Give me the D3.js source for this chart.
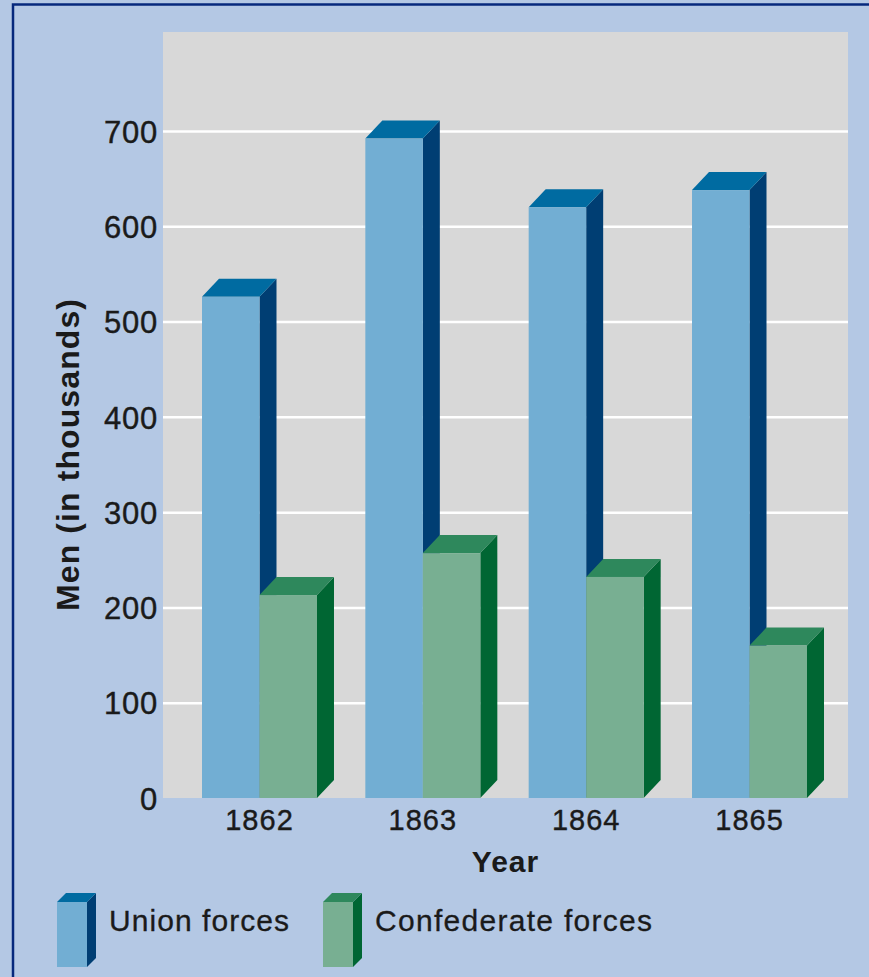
<!DOCTYPE html>
<html>
<head>
<meta charset="utf-8">
<script src="https://cdn.jsdelivr.net/npm/d3@7"></script>
<style>
  body { margin: 0; background: #b4c8e4; }
  svg { display: block; font-family: "Liberation Sans", Arial, sans-serif; }
</style>
</head>
<body>
<div id="chart"></div>
<script>
// Data (men in thousands)
const years = ["1862", "1863", "1864", "1865"];
const series = ["Union forces", "Confederate forces"];
const unionValues = [526, 692, 620, 638];
const confederateValues = [213, 257, 232, 160];
const yTicks = [0, 100, 200, 300, 400, 500, 600, 700];

const data = years.map((yr, i) => ({
  year: yr,
  values: [
    { key: series[0], value: unionValues[i] },
    { key: series[1], value: confederateValues[i] }
  ]
}));

// Layout
const W = 869, H = 977;
const plot = { left: 163, right: 848, top: 32, bottom: 798 };
const depth = { dx: 17, dy: 18 };

const colors = {
  "Union forces": { front: "#72aed3", top: "#006ba1", side: "#003e73" },
  "Confederate forces": { front: "#78af92", top: "#2e885c", side: "#006633" }
};

const svg = d3.select("#chart")
  .append("svg")
  .attr("width", W)
  .attr("height", H);

// Background + frame
svg.append("rect").attr("width", W).attr("height", H).attr("fill", "#b4c8e4");
svg.append("rect")
  .attr("x", 13).attr("y", 4.5)
  .attr("width", W + 20).attr("height", H + 20)
  .attr("fill", "none").attr("stroke", "#06287c").attr("stroke-width", 2.5);

// Scales
const y = d3.scaleLinear().domain([0, 700]).range([plot.bottom, 131]);
const x0 = d3.scaleBand().domain(years).range([202, 807]).paddingInner(0.296);
const x1 = d3.scaleBand().domain(series).range([0, x0.bandwidth()]);

// Plot area
svg.append("rect")
  .attr("x", plot.left).attr("y", plot.top)
  .attr("width", plot.right - plot.left).attr("height", plot.bottom - plot.top)
  .attr("fill", "#d8d8d8");

// Gridlines
svg.append("g")
  .attr("transform", `translate(${plot.left},0)`)
  .call(d3.axisLeft(y).tickValues(yTicks.filter(d => d > 0)).tickSize(-(plot.right - plot.left)).tickFormat(""))
  .call(g => g.select(".domain").remove())
  .call(g => g.selectAll("line").attr("stroke", "#fff").attr("stroke-width", 2.5));

// Y axis labels
svg.append("g")
  .attr("transform", `translate(${plot.left - 5},0)`)
  .call(d3.axisLeft(y).tickValues(yTicks).tickSize(0).tickPadding(0))
  .call(g => g.select(".domain").remove())
  .selectAll("text")
  .attr("dy", "0.36em")
  .style("font-size", "31px")
  .style("letter-spacing", "0.8px")
  .style("stroke", "#1a1a1a").style("stroke-width", 0.4)
  .attr("fill", "#1a1a1a");

// X axis labels
svg.append("g")
  .attr("transform", `translate(0,${plot.bottom})`)
  .call(d3.axisBottom(x0).tickSize(0).tickPadding(0))
  .call(g => g.select(".domain").remove())
  .selectAll("text")
  .attr("dy", "0").attr("y", 32)
  .style("font-size", "29px")
  .style("letter-spacing", "1px")
  .style("stroke", "#1a1a1a").style("stroke-width", 0.4)
  .attr("fill", "#1a1a1a");

// 3D bar drawing
function bar3d(g, xl, xr, yt, yb, c, dx, dy) {
  g.append("polygon")
    .attr("points", [[xr, yt], [xr + dx, yt - dy], [xr + dx, yb - dy], [xr, yb]].join(" "))
    .attr("fill", c.side);
  g.append("polygon")
    .attr("points", [[xl, yt], [xl + dx, yt - dy], [xr + dx, yt - dy], [xr, yt]].join(" "))
    .attr("fill", c.top);
  g.append("rect")
    .attr("x", xl).attr("y", yt)
    .attr("width", xr - xl).attr("height", yb - yt)
    .attr("fill", c.front);
}

const groups = svg.selectAll(".year")
  .data(data)
  .enter()
  .append("g")
  .attr("class", "year");

groups.each(function (d) {
  const g = d3.select(this);
  d.values.forEach(v => {
    const xl = x0(d.year) + x1(v.key);
    bar3d(g, xl, xl + x1.bandwidth(), y(v.value), y(0), colors[v.key], depth.dx, depth.dy);
  });
});

// Axis titles
svg.append("text")
  .attr("x", (plot.left + plot.right) / 2)
  .attr("y", 872)
  .attr("text-anchor", "middle")
  .style("font-size", "30px")
  .style("font-weight", "bold")
  .style("letter-spacing", "1px")
  .attr("fill", "#1a1a1a")
  .text("Year");

svg.append("text")
  .attr("transform", "translate(79,455) rotate(-90)")
  .attr("text-anchor", "middle")
  .attr("textLength", 312)
  .attr("lengthAdjust", "spacing")
  .style("font-size", "32px")
  .style("font-weight", "bold")
  .attr("fill", "#1a1a1a")
  .text("Men (in thousands)");

// Legend
const legendX = [57, 323];
const legendText = [180, 277];
series.forEach((s, i) => {
  const g = svg.append("g");
  bar3d(g, legendX[i], legendX[i] + 30, 902, 967, colors[s], 9, 9);
  g.append("text")
    .attr("x", legendX[i] + 52)
    .attr("y", 931)
    .attr("textLength", legendText[i])
    .attr("lengthAdjust", "spacing")
    .style("font-size", "30px")
    .style("stroke", "#1a1a1a").style("stroke-width", 0.3)
    .attr("fill", "#1a1a1a")
    .text(s);
});
</script>
</body>
</html>
